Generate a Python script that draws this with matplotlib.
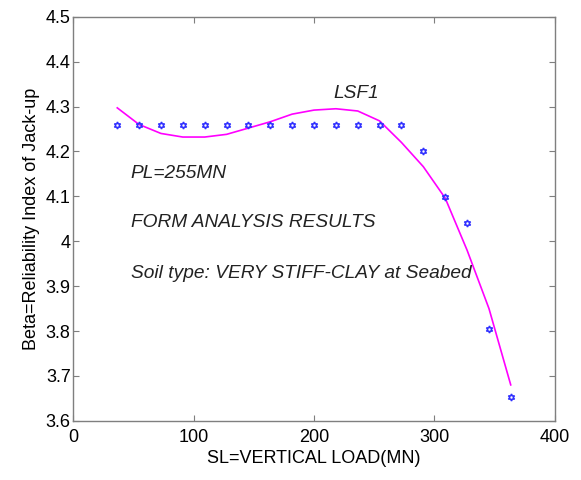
import matplotlib
matplotlib.use("Agg")
import matplotlib.pyplot as plt

plt.rcParams['font.family'] = ['Liberation Sans', 'DejaVu Sans']

# Data
sl_load = [36.4, 54.5, 72.7, 90.9, 109.1, 127.3, 145.5, 163.6, 181.8, 200.0,
           218.2, 236.4, 254.5, 272.7, 290.9, 309.1, 327.3, 345.5, 363.6]
beta_form = [4.258, 4.258, 4.258, 4.258, 4.258, 4.258, 4.258, 4.258, 4.258, 4.258,
             4.258, 4.258, 4.258, 4.258, 4.201, 4.099, 4.040, 3.805, 3.654]
beta_fit = [4.297, 4.260, 4.240, 4.232, 4.232, 4.238, 4.252, 4.266, 4.283, 4.292,
            4.295, 4.290, 4.268, 4.220, 4.166, 4.096, 3.980, 3.850, 3.680]

x_ticks = [0, 100, 200, 300, 400]
y_ticks = [3.6, 3.7, 3.8, 3.9, 4.0, 4.1, 4.2, 4.3, 4.4, 4.5]
y_tick_labels = ['3.6', '3.7', '3.8', '3.9', '4', '4.1', '4.2', '4.3', '4.4', '4.5']

fig = plt.figure(figsize=(5.81, 4.80), dpi=100)
ax = fig.add_axes([0.1265, 0.1233, 0.9544 - 0.1265, 0.9652 - 0.1233])

ax.plot(sl_load, beta_fit, color='#ff00ff', lw=1.2, zorder=2)
ax.plot(sl_load, beta_form, linestyle='none', marker=(6, 1, 0), ms=5,
        mfc='none', mec='#3030ff', mew=1.1, zorder=3)

ax.set_xlim(0, 400)
ax.set_ylim(3.6, 4.5)
ax.set_xticks(x_ticks)
ax.set_xticklabels([str(t) for t in x_ticks])
ax.set_yticks(y_ticks)
ax.set_yticklabels(y_tick_labels)

ax.tick_params(direction='in', length=4, width=0.8, color='#7f7f7f',
               labelsize=13, top=True, right=True)
ax.tick_params(axis='x', pad=6)
ax.tick_params(axis='y', pad=2)
for s in ax.spines.values():
    s.set_color('#7f7f7f')
    s.set_linewidth(1.0)

ax.set_xlabel('SL=VERTICAL LOAD(MN)', fontsize=13, labelpad=3)
ax.set_ylabel('Beta=Reliability Index of Jack-up', fontsize=13, labelpad=4)

txt_kw = dict(fontsize=13.8, style='italic', color='#222222', va='center', ha='left')
ax.text(215.9, 4.330, 'LSF1', **txt_kw)
ax.text(47.6, 4.150, 'PL=255MN', **txt_kw)
ax.text(47.6, 4.041, 'FORM ANALYSIS RESULTS', **txt_kw)
ax.text(47.6, 3.929, 'Soil type: VERY STIFF-CLAY at Seabed', **txt_kw)

fig.savefig('out.png', dpi=100, facecolor='white')
